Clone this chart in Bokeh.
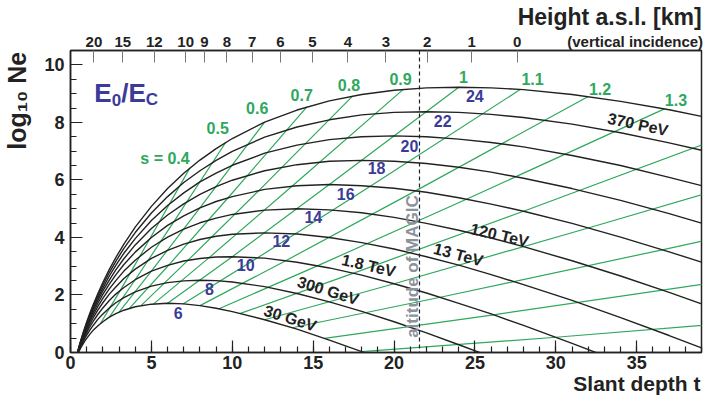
import math
from bokeh.plotting import figure
from bokeh.models import LinearAxis, FixedTicker, SingleIntervalTicker, Label, Span, Range1d
from bokeh.embed import file_html
from bokeh.resources import INLINE

# ---------------- data ----------------
# slant depth samples (radiation lengths) of the shower-size curves
depth_t = [0.3, 0.4, 0.5, 0.6, 0.7, 0.8, 0.9, 1.0, 1.2, 1.4, 1.7, 2.0, 2.4, 2.8, 3.3, 4, 5, 6, 7, 8,
           9, 10, 12, 14, 16, 18, 20, 22, 24, 26, 28, 31, 34, 37, 39]
# ln(E0/Ec) of each curve
ln_e0_ec = [6, 8, 10, 12, 14, 16, 18, 20, 22, 24]
log_ne_6 = [-0.26, -0.12, 0.01, 0.12, 0.23, 0.32, 0.41, 0.49, 0.64, 0.77, 0.93, 1.07, 1.23, 1.35, 1.47, 1.59, 1.68, 1.71, 1.69, 1.63,
            1.54, 1.42, 1.14, 0.81, 0.43, 0.03, -0.40, -0.85, -1.31, -1.79, -2.27, -3.01, -3.77, -4.54, -5.06]
log_ne_8 = [-0.26, -0.11, 0.04, 0.17, 0.29, 0.40, 0.51, 0.60, 0.78, 0.94, 1.16, 1.34, 1.55, 1.73, 1.91, 2.11, 2.31, 2.43, 2.49, 2.51,
            2.50, 2.45, 2.29, 2.05, 1.76, 1.43, 1.07, 0.68, 0.27, -0.15, -0.59, -1.28, -1.99, -2.71, -3.20]
log_ne_10 = [-0.27, -0.10, 0.06, 0.20, 0.34, 0.46, 0.58, 0.69, 0.90, 1.08, 1.33, 1.55, 1.81, 2.03, 2.26, 2.53, 2.83, 3.03, 3.18, 3.27,
             3.32, 3.33, 3.28, 3.14, 2.94, 2.69, 2.39, 2.07, 1.71, 1.34, 0.94, 0.32, -0.33, -1.00, -1.47]
log_ne_12 = [-0.27, -0.09, 0.08, 0.23, 0.38, 0.52, 0.65, 0.77, 0.99, 1.20, 1.48, 1.73, 2.03, 2.28, 2.57, 2.90, 3.27, 3.55, 3.77, 3.93,
             4.04, 4.11, 4.16, 4.12, 4.00, 3.82, 3.60, 3.33, 3.04, 2.71, 2.36, 1.81, 1.21, 0.59, 0.16]
log_ne_14 = [-0.28, -0.08, 0.09, 0.26, 0.41, 0.56, 0.70, 0.83, 1.08, 1.30, 1.61, 1.88, 2.21, 2.50, 2.83, 3.21, 3.66, 4.01, 4.29, 4.51,
             4.67, 4.80, 4.95, 5.00, 4.96, 4.86, 4.70, 4.49, 4.25, 3.98, 3.68, 3.19, 2.66, 2.09, 1.69]
log_ne_16 = [-0.28, -0.08, 0.11, 0.28, 0.45, 0.60, 0.75, 0.89, 1.15, 1.39, 1.72, 2.02, 2.38, 2.70, 3.06, 3.49, 4.00, 4.42, 4.75, 5.03,
             5.25, 5.42, 5.67, 5.80, 5.84, 5.80, 5.71, 5.57, 5.38, 5.16, 4.91, 4.49, 4.01, 3.50, 3.14]
log_ne_18 = [-0.28, -0.07, 0.12, 0.30, 0.47, 0.63, 0.79, 0.93, 1.21, 1.47, 1.82, 2.14, 2.52, 2.87, 3.26, 3.74, 4.31, 4.78, 5.17, 5.50,
             5.77, 5.99, 6.32, 6.53, 6.65, 6.68, 6.65, 6.57, 6.44, 6.27, 6.06, 5.70, 5.29, 4.83, 4.50]
log_ne_20 = [-0.29, -0.07, 0.13, 0.32, 0.50, 0.66, 0.83, 0.98, 1.27, 1.54, 1.91, 2.24, 2.66, 3.03, 3.45, 3.96, 4.59, 5.11, 5.55, 5.93,
             6.24, 6.51, 6.93, 7.21, 7.40, 7.50, 7.53, 7.50, 7.42, 7.30, 7.15, 6.85, 6.50, 6.09, 5.80]
log_ne_22 = [-0.29, -0.07, 0.14, 0.34, 0.52, 0.69, 0.86, 1.02, 1.32, 1.60, 1.99, 2.34, 2.78, 3.17, 3.62, 4.17, 4.85, 5.42, 5.91, 6.32,
             6.68, 6.99, 7.49, 7.84, 8.09, 8.26, 8.35, 8.37, 8.35, 8.28, 8.17, 7.94, 7.64, 7.29, 7.03]
log_ne_24 = [-0.29, -0.06, 0.15, 0.35, 0.54, 0.72, 0.89, 1.06, 1.37, 1.66, 2.06, 2.43, 2.89, 3.30, 3.77, 4.36, 5.08, 5.70, 6.23, 6.69,
             7.09, 7.44, 8.01, 8.43, 8.75, 8.97, 9.12, 9.20, 9.22, 9.20, 9.14, 8.97, 8.73, 8.44, 8.21]
curves = [log_ne_6, log_ne_8, log_ne_10, log_ne_12, log_ne_14, log_ne_16, log_ne_18, log_ne_20, log_ne_22, log_ne_24]

# lines of constant shower age s (points where they cross ln(E0/Ec) = 6, 10, 16, 24)
age_s = [0.4, 0.5, 0.6, 0.7, 0.8, 0.9, 1.0, 1.1, 1.2, 1.3, 1.4, 1.5, 1.6, 1.7, 1.8]
age_t = [[1.85, 3.08, 4.92, 7.38], [2.40, 4.00, 6.40, 9.60], [3.00, 5.00, 8.00, 12.00],
         [3.65, 6.09, 9.74, 14.61], [4.36, 7.27, 11.64, 17.45], [5.14, 8.57, 13.71, 20.57],
         [6.00, 10.00, 16.00, 24.00], [6.95, 11.58, 18.53, 27.79], [8.00, 13.33, 21.33, 32.00],
         [9.18, 15.29, 24.47, 36.71], [10.50, 17.50, 28.00, 42.00], [12.00, 20.00, 32.00, 48.00],
         [13.71, 22.86, 36.57, 54.86], [15.69, 26.15, 41.85, 62.77], [18.00, 30.00, 48.00, 72.00]]
age_v = [[1.01, 2.16, 3.97, 6.42], [1.23, 2.53, 4.56, 7.31], [1.40, 2.83, 5.03, 8.01],
         [1.54, 3.05, 5.38, 8.54], [1.63, 3.21, 5.63, 8.92], [1.69, 3.30, 5.79, 9.15],
         [1.71, 3.33, 5.84, 9.22], [1.69, 3.30, 5.78, 9.14], [1.63, 3.20, 5.62, 8.90],
         [1.52, 3.02, 5.33, 8.47], [1.36, 2.76, 4.91, 7.84], [1.14, 2.39, 4.33, 6.97],
         [0.86, 1.92, 3.57, 5.83], [0.49, 1.31, 2.60, 4.36], [0.03, 0.53, 1.36, 2.50]]
age_text = ["s = 0.4", "0.5", "0.6", "0.7", "0.8", "0.9", "1", "1.1", "1.2", "1.3"]

energy_text = ["30 GeV", "300 GeV", "1.8 TeV", "13 TeV", "120 TeV", "370 PeV"]

# top axis: height above sea level (km) and the slant depth it corresponds to
height_km = ["20", "15", "12", "10", "9", "8", "7", "6", "5", "4", "3", "2", "1", "0"]
height_depth_t = [1.45, 3.23, 5.18, 7.12, 8.28, 9.67, 11.23, 12.97, 14.96, 17.15, 19.49, 22.04, 24.79, 27.60]

magic_depth_t = 21.57

# ---------------- positions / styles ----------------
ln_lab_t = [6.65, 8.59, 10.83, 13.03, 15.01, 17.01, 18.92, 20.95, 23.0, 24.99]
ln_lab_v = [1.39, 2.21, 3.03, 3.87, 4.70, 5.51, 6.40, 7.19, 8.06, 8.91]
age_lab_t = [5.84, 9.10, 11.54, 14.29, 17.21, 20.40, 24.28, 28.56, 32.73, 37.42]
age_lab_v = [6.74, 7.79, 8.49, 8.95, 9.29, 9.51, 9.57, 9.51, 9.17, 8.77]
en_lab_t = [13.58, 15.92, 18.43, 23.97, 26.52, 35.07]
en_lab_v = [1.19, 2.15, 3.02, 3.40, 4.08, 7.93]
en_lab_a = [-0.31, -0.30, -0.23, -0.26, -0.23, -0.21]
note_t = 34.9   # where the "(vertical incidence)" note sits on the top axis

FONT = "Liberation Sans"
INK = "#222222"
BLUE = "#3b3b98"
GREEN = "#2ea85c"
GREY = "#8a929a"
NB = "\u00a0"   # non-breaking spaces push centred axis titles towards the axis end

p = figure(width=703, height=399, output_backend="svg", toolbar_location=None,
           x_range=Range1d(0, 39), y_range=Range1d(0, 10.5),
           min_border_left=66, min_border_right=2, min_border_top=46, min_border_bottom=47,
           background_fill_color="white", border_fill_color="white")
p.xgrid.visible = False
p.ygrid.visible = False
p.outline_line_color = INK
p.outline_line_width = 1.5

bottom = p.below[0]
left = p.left[0]
bottom.ticker = SingleIntervalTicker(interval=5, num_minor_ticks=5)
left.ticker = SingleIntervalTicker(interval=2, num_minor_ticks=4)

overrides = {t: k for t, k in zip(height_depth_t, height_km)}
overrides[note_t] = "(vertical incidence)"
top = LinearAxis(ticker=FixedTicker(ticks=height_depth_t + [note_t], minor_ticks=height_depth_t),
                 major_label_overrides=overrides)
p.add_layout(top, "above")

for ax in [bottom, left, top]:
    ax.major_tick_in = 12
    ax.major_tick_out = 0
    ax.minor_tick_in = 6
    ax.minor_tick_out = 0
    ax.axis_line_color = INK
    ax.axis_line_width = 1.5
    ax.major_tick_line_color = INK
    ax.major_tick_line_width = 1.2
    ax.minor_tick_line_color = INK
    ax.minor_tick_line_width = 1.2
    ax.major_label_text_font = FONT
    ax.major_label_text_font_style = "bold"
    ax.major_label_text_color = INK
    ax.major_label_text_font_size = "18px"
    ax.axis_label_text_font = FONT
    ax.axis_label_text_font_style = "bold"
    ax.axis_label_text_color = INK
bottom.major_label_standoff = 3
left.major_label_standoff = 6
top.major_label_text_font_size = "15px"
top.major_label_standoff = 1
top.major_tick_in = 0
top.minor_tick_in = 12
top.minor_tick_line_color = "#777777"
top.minor_tick_line_width = 1

bottom.axis_label = NB * 86 + "Slant depth t"
bottom.axis_label_text_font_size = "21px"
bottom.axis_label_standoff = 0
left.axis_label = NB * 29 + "log\u2081\u2080 Ne"
left.axis_label_text_font_size = "25px"
left.axis_label_standoff = 10
top.axis_label = NB * 70 + "Height a.s.l. [km]"
top.axis_label_text_font_size = "23px"
top.axis_label_standoff = 0

# age lines (green) then shower curves (black)
p.multi_line(age_t, age_v, line_color=GREEN, line_width=1.2)
for c in curves:
    p.line(depth_t, c, line_color=INK, line_width=1.4)

p.add_layout(Span(location=magic_depth_t, dimension="height", line_color=INK,
                  line_width=1.2, line_dash="4 3"))


def lab(x, y, text, size, color=INK, angle=0.0, align="center", baseline="middle"):
    p.add_layout(Label(x=x, y=y, text=text, text_font=FONT, text_font_style="bold",
                       text_font_size=size, text_color=color, angle=angle,
                       text_align=align, text_baseline=baseline))


for t, v, y in zip(ln_lab_t, ln_lab_v, ln_e0_ec):
    lab(t, v, str(y), "16px", BLUE)
for t, v, s in zip(age_lab_t, age_lab_v, age_text):
    lab(t, v, s, "16px", GREEN)
for t, v, a, s in zip(en_lab_t, en_lab_v, en_lab_a, energy_text):
    lab(t, v, s, "16px", INK, angle=a)

lab(21.15, 0.51, "altitude of MAGIC", "17px", GREY, angle=math.pi / 2, align="left", baseline="alphabetic")

# E0/EC
lab(1.474, 9.005, "E", "26px", BLUE, align="left", baseline="alphabetic")
lab(2.549, 8.78, "0", "17px", BLUE, align="left", baseline="alphabetic")
lab(3.133, 9.005, "/E", "26px", BLUE, align="left", baseline="alphabetic")
lab(4.644, 8.78, "C", "17px", BLUE, align="left", baseline="alphabetic")

open("out.html", "w").write(file_html(p, INLINE))
